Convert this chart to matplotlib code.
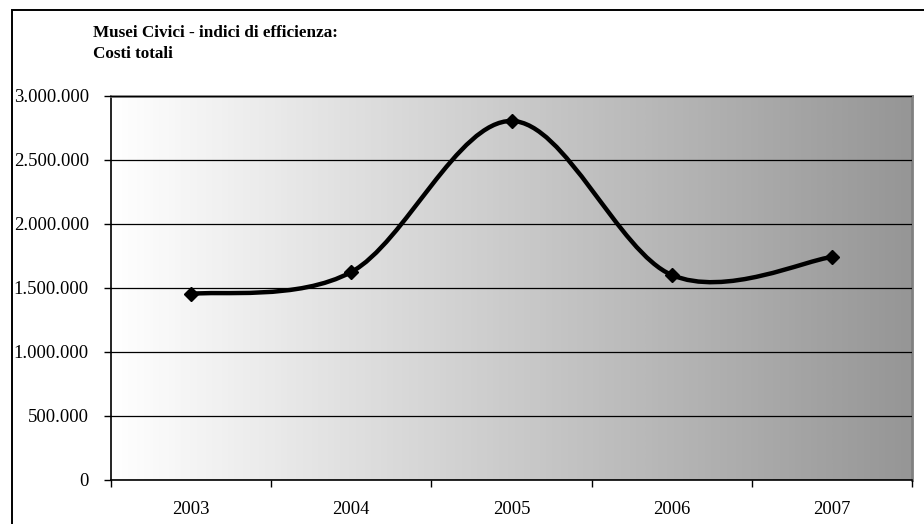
import numpy as np
import matplotlib
matplotlib.use("Agg")
import matplotlib.pyplot as plt
from matplotlib.path import Path
from matplotlib.patches import PathPatch, Rectangle
from matplotlib.ticker import FuncFormatter, FixedLocator

plt.rcParams['font.family'] = ['Liberation Serif', 'DejaVu Serif']

# dati
anni = ["2003", "2004", "2005", "2006", "2007"]
costi_totali = [1453000, 1625000, 2805000, 1602000, 1742000]
titolo_1 = "Musei Civici - indici di efficienza:"
titolo_2 = "Costi totali"


def smooth_path(xs, ys):
    """curva morbida stile Excel (Catmull-Rom -> Bezier)"""
    pts = np.column_stack([xs, ys]).astype(float)
    n = len(pts)
    verts = [pts[0]]
    codes = [Path.MOVETO]
    for i in range(n - 1):
        p0 = pts[i - 1] if i > 0 else pts[i]
        p1 = pts[i]
        p2 = pts[i + 1]
        p3 = pts[i + 2] if i + 2 < n else pts[i + 1]
        c1 = p1 + (p2 - p0) / 6.0
        c2 = p2 - (p3 - p1) / 6.0
        verts += [c1, c2, p2]
        codes += [Path.CURVE4] * 3
    return Path(verts, codes)


fig = plt.figure(figsize=(9.24, 5.24), dpi=100)
W, H = 924, 524
ax = fig.add_axes([111 / W, 1 - 480 / H, (912 - 111) / W, (480 - 96) / H])

# cornice esterna
fig.patches.append(Rectangle((12 / W, -0.1), 1.2, 1 - 10 / H + 0.1,
                             transform=fig.transFigure, fill=False,
                             edgecolor='black', linewidth=1.4))

# sfondo sfumato bianco -> grigio
grad = np.linspace(0, 1, 256).reshape(1, -1)
cmap = matplotlib.colors.LinearSegmentedColormap.from_list("g", ["#ffffff", "#969696"])
ax.imshow(grad, extent=[0, 1, 0, 1], transform=ax.transAxes, cmap=cmap,
          aspect='auto', zorder=0, interpolation='bicubic')

x = np.arange(len(anni))
ax.set_xlim(-0.5, len(anni) - 0.5)
ax.set_ylim(0, 3000000)

ax.yaxis.set_major_locator(FixedLocator(np.arange(0, 3000001, 500000)))
ax.yaxis.set_major_formatter(FuncFormatter(lambda v, p: f"{int(v):,}".replace(",", ".")))
ax.grid(axis='y', color='black', linewidth=0.9, zorder=1)
ax.set_axisbelow(False)

ax.xaxis.set_major_locator(FixedLocator(np.arange(-0.5, len(anni), 1.0)))
ax.xaxis.set_minor_locator(FixedLocator(x))
ax.set_xticklabels([], minor=False)
ax.set_xticklabels(anni, minor=True)
ax.tick_params(axis='x', which='major', length=5, width=1, direction='out')
ax.tick_params(axis='x', which='minor', length=0, pad=15, labelsize=13.4)
ax.tick_params(axis='y', length=5, width=1, direction='out', pad=11, labelsize=13.4)

for s in ['top', 'right']:
    ax.spines[s].set_color('#808080')
    ax.spines[s].set_linewidth(2)
for s in ['left', 'bottom']:
    ax.spines[s].set_color('black')
    ax.spines[s].set_linewidth(1.2)

ax.add_patch(PathPatch(smooth_path(x, costi_totali), facecolor='none',
                       edgecolor='black', linewidth=3.2, zorder=3,
                       capstyle='round', joinstyle='round'))
ax.plot(x, costi_totali, linestyle='none', marker='D', markersize=7,
        color='black', zorder=4)

fig.text(93 / W, 1 - 37 / H, titolo_1, fontsize=12.3, fontweight='bold',
         ha='left', va='baseline')
fig.text(93 / W, 1 - 58 / H, titolo_2, fontsize=12.3, fontweight='bold',
         ha='left', va='baseline')

fig.savefig("out.png", dpi=100)
